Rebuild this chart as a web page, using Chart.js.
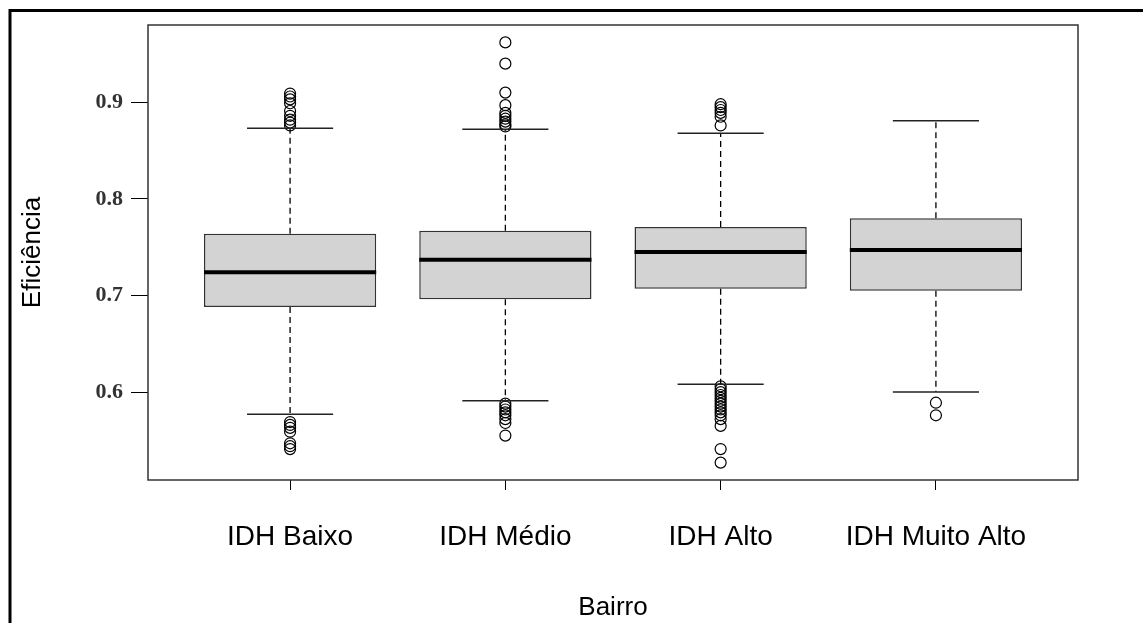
<!DOCTYPE html>
<html>
<head>
<meta charset="utf-8">
<script src="https://cdn.jsdelivr.net/npm/chart.js@4/dist/chart.umd.min.js"></script>
<style>
 html, body { margin:0; padding:0; background:#fff; }
 #wrap { position:relative; width:1143px; height:623px; }
</style>
</head>
<body>
<div id="wrap"><canvas id="boxChart"></canvas></div>
<script>
'use strict';

// boxplot summary per bairro group
var categories = ['IDH Baixo', 'IDH Médio', 'IDH Alto', 'IDH Muito Alto'];
var lowerWhisker = [0.577, 0.591, 0.608, 0.600];
var q1 = [0.688, 0.696, 0.707, 0.705];
var median = [0.724, 0.737, 0.745, 0.747];
var q3 = [0.764, 0.767, 0.771, 0.780];
var upperWhisker = [0.873, 0.872, 0.868, 0.881];

// outliers
var outBaixo = [0.909, 0.906, 0.903, 0.899, 0.891, 0.886, 0.882, 0.879, 0.876,
                0.569, 0.566, 0.563, 0.559, 0.547, 0.544, 0.541];
var outMedio = [0.962, 0.940, 0.910, 0.897, 0.889, 0.886, 0.883, 0.880, 0.877, 0.875,
                0.588, 0.585, 0.582, 0.579, 0.576, 0.572, 0.568, 0.555];
var outAlto = [0.898, 0.895, 0.892, 0.889, 0.885, 0.876,
               0.606, 0.603, 0.600, 0.597, 0.594, 0.591, 0.588, 0.585, 0.582, 0.579,
               0.576, 0.572, 0.565, 0.541, 0.527];
var outMuitoAlto = [0.589, 0.576];

var yTicks = [0.6, 0.7, 0.8, 0.9];

var outlierPoints = [];
[outBaixo, outMedio, outAlto, outMuitoAlto].forEach(function(list, i){
  list.forEach(function(v){ outlierPoints.push({x: i + 1, y: v}); });
});

var boxParts = {
  id: 'boxParts',
  afterDatasetsDraw: function(chart){
    var ctx = chart.ctx, xs = chart.scales.x, ys = chart.scales.y, area = chart.chartArea;
    var bars = chart.getDatasetMeta(0).data;
    function line(x1, y1, x2, y2){
      ctx.beginPath(); ctx.moveTo(x1, y1); ctx.lineTo(x2, y2); ctx.stroke();
    }
    ctx.save();
    ctx.strokeStyle = '#000';
    categories.forEach(function(c, i){
      var cx = xs.getPixelForValue(i + 1);
      var half = bars[i].width / 2;
      // dashed whiskers
      ctx.setLineDash([6, 4]);
      ctx.lineWidth = 1.3;
      ctx.strokeStyle = '#000';
      line(cx, ys.getPixelForValue(q3[i]), cx, ys.getPixelForValue(upperWhisker[i]));
      line(cx, ys.getPixelForValue(q1[i]), cx, ys.getPixelForValue(lowerWhisker[i]));
      ctx.setLineDash([]);
      // caps
      ctx.lineWidth = 1.5;
      ctx.strokeStyle = '#222';
      line(cx - half / 2, ys.getPixelForValue(upperWhisker[i]), cx + half / 2, ys.getPixelForValue(upperWhisker[i]));
      line(cx - half / 2, ys.getPixelForValue(lowerWhisker[i]), cx + half / 2, ys.getPixelForValue(lowerWhisker[i]));
      // median
      ctx.strokeStyle = '#000';
      ctx.lineWidth = 4;
      line(cx - half, ys.getPixelForValue(median[i]), cx + half, ys.getPixelForValue(median[i]));
    });
    // plot frame
    ctx.lineWidth = 1.5;
    ctx.strokeStyle = '#333';
    ctx.strokeRect(area.left, area.top, area.width, area.height);
    // outer figure frame
    ctx.lineWidth = 3;
    ctx.strokeStyle = '#000';
    ctx.beginPath();
    ctx.moveTo(10, chart.height);
    ctx.lineTo(10, 10.5);
    ctx.lineTo(chart.width, 10.5);
    ctx.stroke();
    ctx.restore();
  }
};

new Chart('boxChart', {
  type: 'bar',
  data: {
    datasets: [{
      label: 'box',
      data: categories.map(function(c, i){ return {x: i + 1, y: [q1[i], q3[i]]}; }),
      backgroundColor: '#d3d3d3',
      borderColor: '#333',
      borderWidth: 1.5,
      borderSkipped: false,
      barPercentage: 0.8,
      categoryPercentage: 1
    }, {
      type: 'scatter',
      label: 'outliers',
      data: outlierPoints,
      pointRadius: 5.5,
      pointBorderWidth: 1.2,
      pointBorderColor: '#000',
      pointBackgroundColor: 'rgba(0,0,0,0)'
    }]
  },
  options: {
    responsive: true,
    maintainAspectRatio: false,
    animation: false,
    layout: { padding: { left: 0, right: 65, top: 25, bottom: 0 } },
    plugins: { legend: { display: false }, tooltip: { enabled: false } },
    scales: {
      x: {
        type: 'linear',
        min: 0.34,
        max: 4.66,
        offset: false,
        afterFit: function(s){ s.height = 143; },
        afterBuildTicks: function(s){ s.ticks = categories.map(function(c, i){ return {value: i + 1}; }); },
        ticks: {
          callback: function(v){ return categories[v - 1]; },
          font: { family: 'Liberation Sans', size: 28 },
          color: '#000',
          padding: 30,
          maxRotation: 0
        },
        grid: { display: true, offset: false, drawOnChartArea: false, drawTicks: true, tickLength: 10, color: '#000' },
        border: { display: false },
        title: {
          display: true,
          text: 'Bairro',
          font: { family: 'Liberation Sans', size: 26 },
          color: '#000',
          padding: { top: 0, bottom: 0 }
        }
      },
      y: {
        min: 0.509,
        max: 0.980,
        afterFit: function(s){ s.width = 148; },
        afterBuildTicks: function(s){ s.ticks = yTicks.map(function(v){ return {value: v}; }); },
        ticks: {
          callback: function(v){ return v.toFixed(1); },
          font: { family: 'Liberation Serif', size: 22, weight: 'bold' },
          color: '#333',
          padding: 8
        },
        grid: { display: true, offset: false, drawOnChartArea: false, drawTicks: true, tickLength: 17, color: '#000' },
        border: { display: false },
        title: {
          display: true,
          text: 'Eficiência',
          font: { family: 'Liberation Sans', size: 26 },
          color: '#000',
          padding: { top: 17, bottom: 0 }
        }
      }
    }
  },
  plugins: [boxParts]
});
</script>
</body>
</html>
